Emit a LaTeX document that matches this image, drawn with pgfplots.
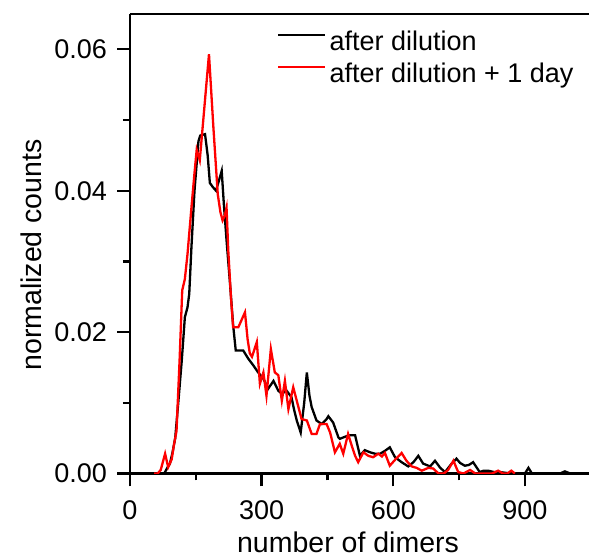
\documentclass[border=0pt]{standalone}
\usepackage{fontspec}
\setmainfont{Liberation Sans}
\usepackage{pgfplots}
\pgfplotsset{compat=1.18}
\definecolor{dilred}{HTML}{FF0000}

\pgfplotstableread{
x y
60 0
78 0
85 0.0008
91 0.0014
97 0.003
103 0.005
110 0.010
118 0.016
125 0.0221
131 0.0235
135 0.0254
140 0.032
147 0.040
156 0.047
160 0.0478
171 0.048
177 0.045
182 0.0411
189 0.0405
196 0.040
203 0.0415
209 0.0428
214 0.038
220 0.033
228 0.0268
235 0.021
241 0.0174
247 0.0174
258 0.0174
264 0.0168
270 0.0162
281 0.0153
292 0.0143
304 0.0134
315 0.012
327 0.0131
338 0.0117
346 0.0113
357 0.0117
368 0.0108
374 0.009
380 0.0075
389 0.0058
397 0.010
403 0.0143
409 0.011
414 0.0094
425 0.0075
437 0.007
448 0.0077
452 0.0081
463 0.0072
475 0.0051
478 0.0049
490 0.0052
501 0.0054
513 0.0054
524 0.0025
535 0.0033
547 0.003
558 0.0028
570 0.0028
581 0.0032
592 0.0037
604 0.0023
619 0.0016
634 0.001
646 0.0016
657 0.0025
668 0.0014
684 0.001
695 0.0018
707 0.0008
718 0.0002
733 0.0014
744 0.0021
752 0.0015
763 0.0011
772 0.0012
782 0.0016
797 0.0002
806 0.0004
816 0.0004
830 0.0002
843 0.0002
855 0.0001
870 0
900 0
908 0.0008
916 0
980 0
991 0.0003
1003 0
1046 0
}\afterdil

\pgfplotstableread{
x y
55 0
63 0
70 0.0005
80 0.0028
87 0.0009
95 0.002
100 0.004
106 0.006
113 0.016
119 0.0259
125 0.0275
131 0.031
140 0.0376
147 0.0425
152 0.0458
159 0.0443
180 0.0593
190 0.049
200 0.0395
206 0.0370
211 0.0358
216 0.0365
220 0.0376
224 0.0315
230 0.025
235 0.0207
247 0.0207
262 0.0228
268 0.019
273 0.0170
278 0.0165
289 0.0186
296 0.0127
304 0.0143
311 0.011
321 0.0176
330 0.0143
338 0.0139
346 0.0103
353 0.0131
361 0.0091
372 0.0122
380 0.0103
391 0.0077
403 0.0075
414 0.0056
425 0.0056
433 0.007
448 0.007
456 0.0058
467 0.003
478 0.0042
486 0.0028
497 0.0056
505 0.004
513 0.0025
520 0.0016
532 0.003
543 0.0025
554 0.0023
566 0.0028
574 0.0024
581 0.0029
592 0.0011
605 0.002
619 0.0029
630 0.0018
642 0.001
653 0.0008
665 0.0004
680 0.0008
691 0.0007
703 0
715 0
725 0.0005
737 0.0018
748 0.0002
760 0
775 0.0005
787 0
825 0
839 0.0004
850 0
860 0
869 0.0004
877 0
}\afterday

\begin{document}
\begin{tikzpicture}
\begin{axis}[
  scale only axis,
  width=459pt, height=459.5pt,
  xmin=0, xmax=1046,
  ymin=0, ymax=0.065,
  axis x line*=box,
  axis y line*=left,
  tick pos=left,
  tick align=outside,
  xtick={0,300,600,900},
  ytick={0,0.02,0.04,0.06},
  scaled y ticks=false,
  minor x tick num=1,
  minor y tick num=1,
  major tick length=13pt,
  minor tick length=7pt,
  every tick/.style={black, line width=2.3pt},
  axis line style={black, line width=2.4pt},
  /pgf/number format/assume math mode=true,
  yticklabel style={/pgf/number format/fixed, /pgf/number format/fixed zerofill, /pgf/number format/precision=2},
  tick label style={font=\fontsize{27}{32}\selectfont},
  xticklabel style={anchor=base},
  xticklabel shift=33pt,
  yticklabel style={anchor=east, inner sep=0pt},
  yticklabel shift=10pt,
  xlabel={number of dimers},
  ylabel={normalized counts},
  label style={font=\fontsize{28.5}{34}\selectfont},
  xlabel style={at={(axis description cs:0.475,-0.173)}, anchor=base, inner sep=0pt},
  ylabel style={at={(axis description cs:-0.2157,0.4755)}, anchor=center},
  legend cell align=left,
  legend image code/.code={\draw[#1] (0pt,9pt) -- (47pt,9pt);},
  legend style={at={(axis description cs:0.3205,0.97)}, anchor=north west,
    draw=none, fill=none, inner sep=0pt,
    font=\fontsize{27}{32}\selectfont,
    nodes={inner sep=3pt, text height=20pt, text depth=6pt}},
]
\addplot[black, line width=2.3pt] table {\afterdil};
\addplot[dilred, line width=2.3pt] table {\afterday};
\legend{after dilution, after dilution + 1 day}
\end{axis}
\pgfresetboundingbox
\path[use as bounding box] ([xshift=-130pt,yshift=-86pt]current axis.south west) rectangle ([yshift=14pt]current axis.north east);
\end{tikzpicture}
\end{document}
